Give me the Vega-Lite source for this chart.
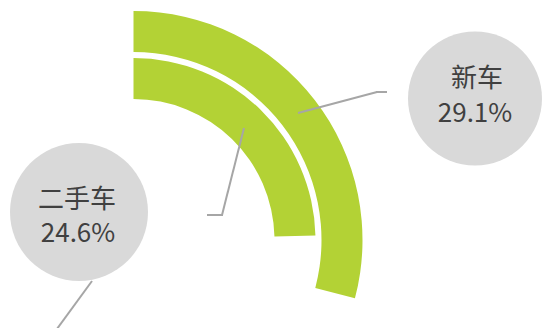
{
  "$schema": "https://vega.github.io/schema/vega-lite/v6.json",
  "width": 544,
  "height": 328,
  "autosize": {"type": "none"},
  "padding": 0,
  "background": "white",
  "config": {"view": {"stroke": null}},
  "datasets": {
    "shares": [
      {"类型": "新车", "占比": 0.291},
      {"类型": "二手车", "占比": 0.246}
    ]
  },
  "data": {"name": "shares"},
  "layer": [
    {
      "transform": [{"filter": "datum['类型'] === '新车'"}],
      "mark": {"type": "arc", "radius": 229, "radius2": 188, "color": "#b3d235"},
      "encoding": {
        "theta": {"field": "占比", "type": "quantitative", "stack": null, "scale": {"domain": [0, 1], "range": [0, 6.283185307]}},
        "theta2": {"datum": 0},
        "x": {"datum": 133.5, "type": "quantitative", "scale": {"domain": [0, 544], "nice": false, "zero": false}, "axis": null},
        "y": {"datum": 240, "type": "quantitative", "scale": {"domain": [0, 328], "nice": false, "zero": false, "reverse": true}, "axis": null}
      }
    },
    {
      "transform": [{"filter": "datum['类型'] === '二手车'"}],
      "mark": {"type": "arc", "radius": 182, "radius2": 141, "color": "#b3d235"},
      "encoding": {
        "theta": {"field": "占比", "type": "quantitative", "stack": null},
        "theta2": {"datum": 0},
        "x": {"datum": 133.5, "type": "quantitative"},
        "y": {"datum": 240, "type": "quantitative"}
      }
    },
    {
      "transform": [{"filter": "datum['类型'] === '新车'"}],
      "mark": {"type": "rule", "color": "#a6a6a6", "strokeWidth": 2},
      "encoding": {
        "x": {"datum": 298, "type": "quantitative"},
        "y": {"datum": 113, "type": "quantitative"},
        "x2": {"datum": 377},
        "y2": {"datum": 92}
      }
    },
    {
      "transform": [{"filter": "datum['类型'] === '新车'"}],
      "mark": {"type": "rule", "color": "#a6a6a6", "strokeWidth": 2},
      "encoding": {
        "x": {"datum": 376, "type": "quantitative"},
        "y": {"datum": 92, "type": "quantitative"},
        "x2": {"datum": 387},
        "y2": {"datum": 92}
      }
    },
    {
      "transform": [{"filter": "datum['类型'] === '二手车'"}],
      "mark": {"type": "rule", "color": "#a6a6a6", "strokeWidth": 2},
      "encoding": {
        "x": {"datum": 244, "type": "quantitative"},
        "y": {"datum": 128, "type": "quantitative"},
        "x2": {"datum": 222},
        "y2": {"datum": 215}
      }
    },
    {
      "transform": [{"filter": "datum['类型'] === '二手车'"}],
      "mark": {"type": "rule", "color": "#a6a6a6", "strokeWidth": 2},
      "encoding": {
        "x": {"datum": 223, "type": "quantitative"},
        "y": {"datum": 215, "type": "quantitative"},
        "x2": {"datum": 207},
        "y2": {"datum": 215}
      }
    },
    {
      "transform": [{"filter": "datum['类型'] === '二手车'"}],
      "mark": {"type": "rule", "color": "#a6a6a6", "strokeWidth": 2},
      "encoding": {
        "x": {"datum": 92, "type": "quantitative"},
        "y": {"datum": 281, "type": "quantitative"},
        "x2": {"datum": 54},
        "y2": {"datum": 333}
      }
    },
    {
      "transform": [{"filter": "datum['类型'] === '新车'"}],
      "mark": {"type": "circle", "size": 17956, "color": "#d9d9d9", "opacity": 1},
      "encoding": {
        "x": {"datum": 475, "type": "quantitative"},
        "y": {"datum": 98.5, "type": "quantitative"}
      }
    },
    {
      "transform": [{"filter": "datum['类型'] === '二手车'"}],
      "mark": {"type": "circle", "size": 19044, "color": "#d9d9d9", "opacity": 1},
      "encoding": {
        "x": {"datum": 79, "type": "quantitative"},
        "y": {"datum": 212, "type": "quantitative"}
      }
    },
    {
      "transform": [{"filter": "datum['类型'] === '新车'"}],
      "mark": {"type": "text", "font": "Noto Sans CJK SC", "fontSize": 26, "color": "#404040", "baseline": "middle", "align": "center"},
      "encoding": {
        "text": {"field": "类型", "type": "nominal"},
        "x": {"datum": 477, "type": "quantitative"},
        "y": {"datum": 79, "type": "quantitative"}
      }
    },
    {
      "transform": [{"filter": "datum['类型'] === '新车'"}],
      "mark": {"type": "text", "font": "Noto Sans CJK SC", "fontSize": 26, "color": "#404040", "baseline": "middle", "align": "center"},
      "encoding": {
        "text": {"field": "占比", "type": "quantitative", "format": ".1%"},
        "x": {"datum": 475, "type": "quantitative"},
        "y": {"datum": 114, "type": "quantitative"}
      }
    },
    {
      "transform": [{"filter": "datum['类型'] === '二手车'"}],
      "mark": {"type": "text", "font": "Noto Sans CJK SC", "fontSize": 26, "color": "#404040", "baseline": "middle", "align": "center"},
      "encoding": {
        "text": {"field": "类型", "type": "nominal"},
        "x": {"datum": 77, "type": "quantitative"},
        "y": {"datum": 200, "type": "quantitative"}
      }
    },
    {
      "transform": [{"filter": "datum['类型'] === '二手车'"}],
      "mark": {"type": "text", "font": "Noto Sans CJK SC", "fontSize": 26, "color": "#404040", "baseline": "middle", "align": "center"},
      "encoding": {
        "text": {"field": "占比", "type": "quantitative", "format": ".1%"},
        "x": {"datum": 78, "type": "quantitative"},
        "y": {"datum": 234, "type": "quantitative"}
      }
    }
  ]
}
